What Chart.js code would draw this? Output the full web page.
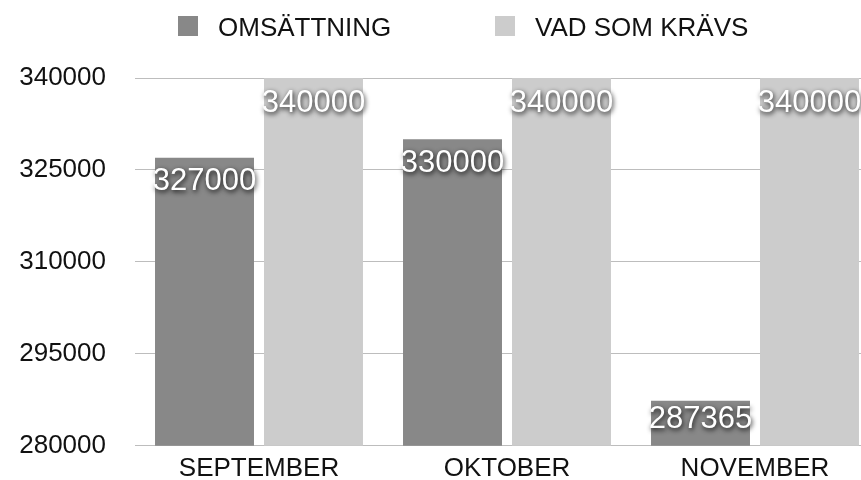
<!DOCTYPE html>
<html>
<head>
<meta charset="utf-8">
<script src="https://cdn.jsdelivr.net/npm/chart.js@4"></script>
<style>
  html, body { margin: 0; padding: 0; background: #fff; overflow: hidden; }
  #wrap { position: relative; width: 880px; height: 491px; }
  #legend { position: absolute; top: 0; left: 0; width: 880px; height: 50px;
            font-family: "Liberation Sans", Arial, Helvetica, sans-serif; font-size: 26px; color: #111; }
  .item { position: absolute; top: 13px; line-height: 26px; white-space: nowrap; }
  .box { position: absolute; top: 3px; left: 0; width: 20px; height: 20px; }
  .txt { position: absolute; top: 1px; left: 40px; }
</style>
</head>
<body>
<div id="wrap">
  <canvas id="chart" width="880" height="491"></canvas>
  <div id="legend"></div>
</div>
<script>
var categories = ["SEPTEMBER", "OKTOBER", "NOVEMBER"];
var seriesNames = ["OMSÄTTNING", "VAD SOM KRÄVS"];
var omsattning = [327000, 330000, 287365];
var vadSomKravs = [340000, 340000, 340000];
var yTicks = [280000, 295000, 310000, 325000, 340000];
var colors = ["#888888", "#cccccc"];

document.addEventListener("DOMContentLoaded", function() {
    // legend drawn in html, positions
    var legend = document.getElementById('legend');
    var legendX = [178, 495];
    seriesNames.forEach(function(name, i) {
        var item = document.createElement('div');
        item.className = 'item';
        item.style.left = legendX[i] + 'px';
        item.innerHTML = '<span class="box" style="background:' + colors[i] + '"></span><span class="txt"></span>';
        item.querySelector('.txt').textContent = name;
        legend.appendChild(item);
    });

    // white value labels with a soft shadow, just under the bar tops
    var barLabels = {
        id: 'barLabels',
        afterDatasetsDraw: function(chart) {
            var ctx = chart.ctx;
            var bottom = chart.chartArea.bottom;
            ctx.save();
            ctx.font = '31px "Liberation Sans", Arial, Helvetica, sans-serif';
            ctx.fillStyle = '#ffffff';
            ctx.textAlign = 'center';
            ctx.textBaseline = 'middle';
            ctx.shadowColor = 'rgba(0,0,0,0.9)';
            ctx.shadowBlur = 5;
            ctx.shadowOffsetX = 1;
            ctx.shadowOffsetY = 2;
            chart.data.datasets.forEach(function(ds, i) {
                chart.getDatasetMeta(i).data.forEach(function(bar, j) {
                    var h = bottom - bar.y;
                    ctx.fillText(String(ds.data[j]), bar.x, bar.y + 18 + 0.0216 * h);
                });
            });
            ctx.restore();
        }
    };

    var ctx = document.getElementById('chart').getContext('2d');
    var font = { family: '"Liberation Sans", Arial, Helvetica, sans-serif', size: 26 };
    new Chart(ctx, {
        type: 'bar',
        data: {
            labels: categories,
            datasets: [{
                label: seriesNames[0],
                data: omsattning,
                backgroundColor: colors[0],
                categoryPercentage: 0.879,
                barPercentage: 0.908
            }, {
                label: seriesNames[1],
                data: vadSomKravs,
                backgroundColor: colors[1],
                categoryPercentage: 0.879,
                barPercentage: 0.908
            }]
        },
        options: {
            responsive: false,
            animation: false,
            layout: { padding: { top: 78, right: 1, left: 0, bottom: 0 } },
            plugins: {
                legend: { display: false },
                tooltip: { enabled: false }
            },
            scales: {
                x: {
                    grid: { display: false, drawTicks: false },
                    border: { display: false },
                    ticks: { color: '#111', font: font, padding: 7, maxRotation: 0 }
                },
                y: {
                    min: yTicks[0],
                    max: yTicks[yTicks.length - 1],
                    afterBuildTicks: function(scale) {
                        scale.ticks = yTicks.map(function(v) { return { value: v }; });
                    },
                    afterFit: function(scale) { scale.width = 135; },
                    grid: { color: '#bdbdbd', lineWidth: 1, drawTicks: false },
                    border: { display: false },
                    ticks: {
                        color: '#111',
                        font: font,
                        padding: 29,
                        callback: function(v) { return String(v); }
                    }
                }
            }
        },
        plugins: [barLabels]
    });
});
</script>
</body>
</html>
